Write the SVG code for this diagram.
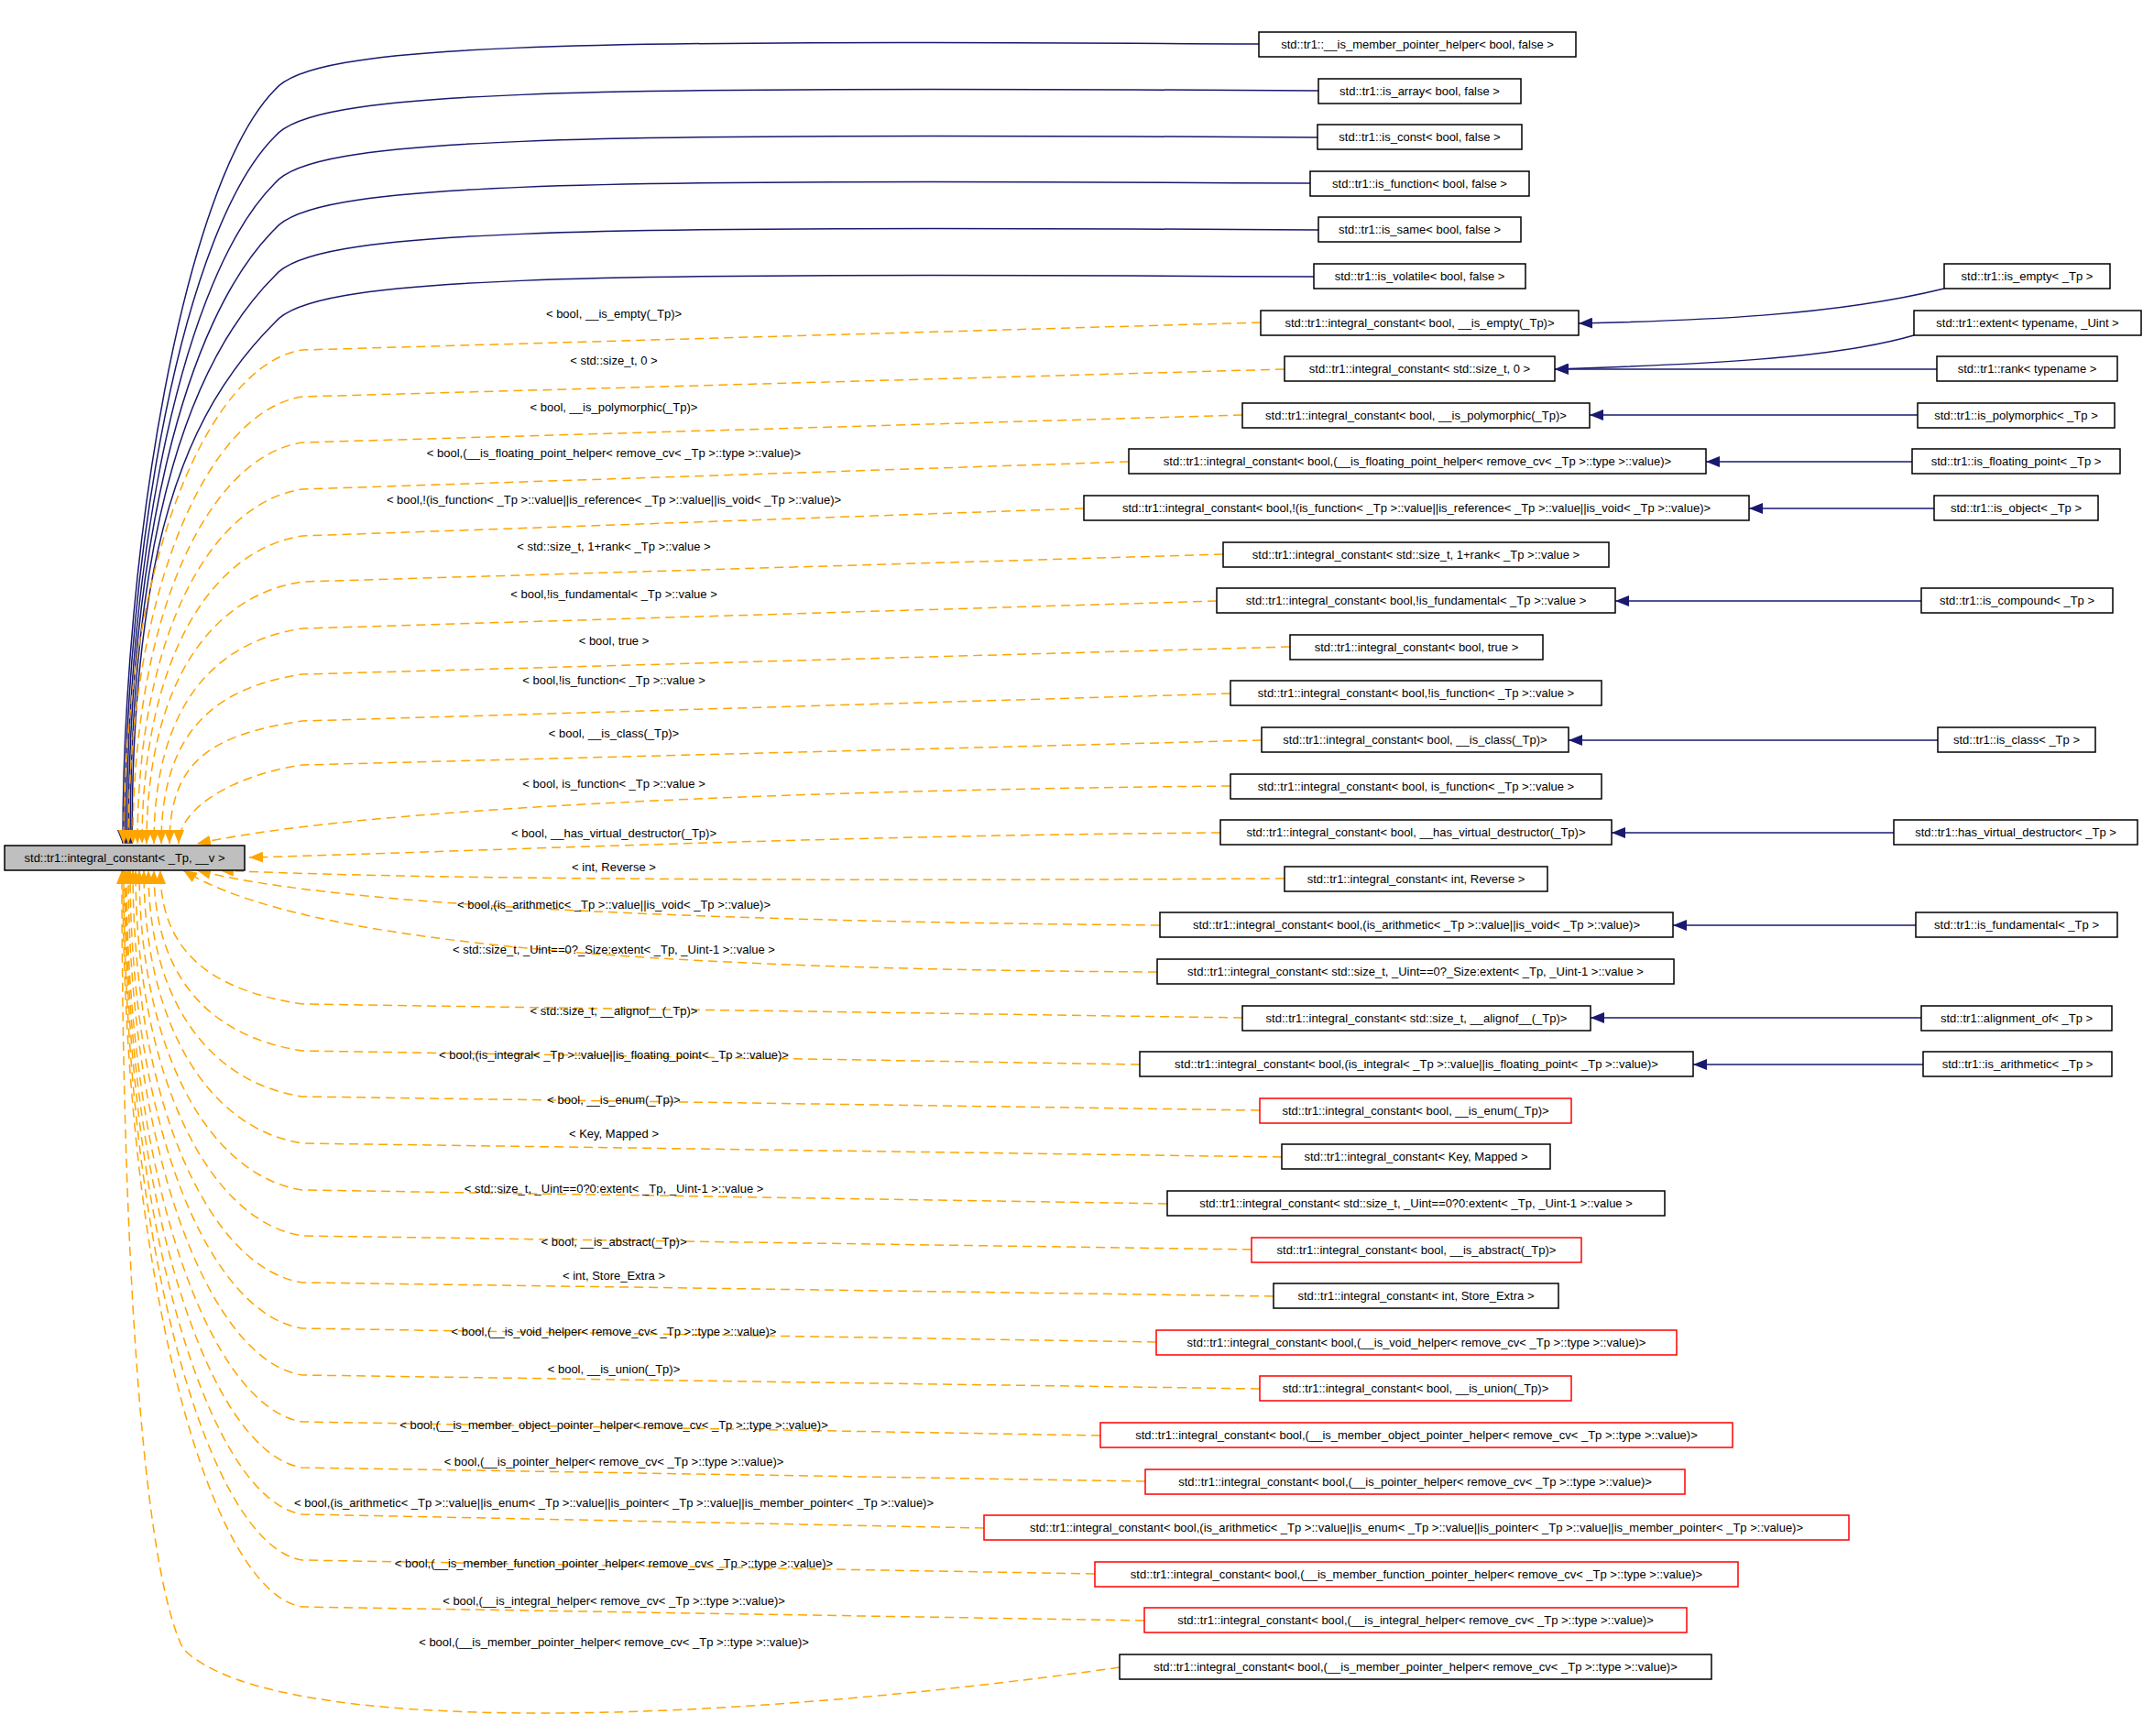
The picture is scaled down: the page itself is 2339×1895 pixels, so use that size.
<svg xmlns="http://www.w3.org/2000/svg" width="2339" height="1895" viewBox="0 0 2339 1895">
<style>
text{font-family:"Liberation Sans",Arial,sans-serif;font-size:13px;fill:#000}
.n rect{fill:#fff;stroke:#000;stroke-width:1.5}
.r rect{stroke:#f00}
.m rect{fill:#bfbfbf}
.n text{text-anchor:middle;dominant-baseline:central}
.o{fill:none;stroke:#ffa500;stroke-width:1.5;stroke-dasharray:10,6;marker-end:url(#ao)}
.b{fill:none;stroke:#191970;stroke-width:1.5;marker-end:url(#ab)}
.l{text-anchor:middle}
</style>
<defs>
<marker id="ao" markerUnits="userSpaceOnUse" markerWidth="16" markerHeight="12" refX="15" refY="6" orient="auto"><path d="M0,0 L15,6 L0,12 z" fill="#ffa500"/></marker>
<marker id="ab" markerUnits="userSpaceOnUse" markerWidth="16" markerHeight="12" refX="15" refY="6" orient="auto"><path d="M0,0 L15,6 L0,12 z" fill="#191970"/></marker>
</defs>
<rect width="2339" height="1895" fill="#fff"/>
<g id="edges">
<path class="b" d="M1374,48 C600,43 340,48 300,98 C200,200 134,600 134,921"/>
<path class="b" d="M1439,99 C600,94 340,99 300,149 C200,249 136,600 136,921"/>
<path class="b" d="M1438,150 C600,145 340,150 300,200 C200,300 138,600 138,921"/>
<path class="b" d="M1430,200 C600,195 340,200 300,250 C200,350 140,600 140,921"/>
<path class="b" d="M1439,251 C600,246 340,251 300,301 C200,401 142,600 142,921"/>
<path class="b" d="M1434,302 C600,297 340,302 300,352 C200,452 144,600 144,921"/>
<path class="o" d="M1376,352 L330,382 C230,397 135,608 135,921"/>
<path class="o" d="M1402,403 L330,433 C230,448 140,636 140,921"/>
<path class="o" d="M1356,453 L330,483 C230,498 145,664 145,921"/>
<path class="o" d="M1232,504 L330,534 C230,549 150,692 150,921"/>
<path class="o" d="M1183,555 L330,585 C230,600 155,720 155,921"/>
<path class="o" d="M1335,605 L330,635 C230,650 160,747 160,921"/>
<path class="o" d="M1328,656 L330,686 C230,701 168,775 168,921"/>
<path class="o" d="M1408,706 L330,736 C230,751 176,803 176,921"/>
<path class="o" d="M1343,757 L330,787 C230,802 185,831 185,921"/>
<path class="o" d="M1377,808 L330,835 C260,845 195,880 195,921"/>
<path class="o" d="M1343,858 C900,862 400,880 215,921"/>
<path class="o" d="M1332,909 C900,912 500,930 272,936"/>
<path class="o" d="M1402,959 C900,962 450,960 240,950"/>
<path class="o" d="M1266,1010 C700,1005 350,985 215,950"/>
<path class="o" d="M1263,1061 C700,1058 330,1030 200,950"/>
<path class="o" d="M1356,1111 L330,1096 C230,1081 175,1039 175,950"/>
<path class="o" d="M1244,1162 L330,1147 C230,1132 168,1067 168,950"/>
<path class="o" d="M1375,1212 L330,1197 C230,1182 162,1094 162,950"/>
<path class="o" d="M1399,1263 L330,1248 C230,1233 157,1122 157,950"/>
<path class="o" d="M1274,1314 L330,1299 C230,1284 152,1150 152,950"/>
<path class="o" d="M1366,1364 L330,1349 C230,1334 148,1178 148,950"/>
<path class="o" d="M1390,1415 L330,1400 C230,1385 145,1206 145,950"/>
<path class="o" d="M1262,1465 L330,1450 C230,1435 142,1233 142,950"/>
<path class="o" d="M1375,1516 L330,1501 C230,1486 140,1261 140,950"/>
<path class="o" d="M1201,1567 L330,1552 C230,1537 138,1289 138,950"/>
<path class="o" d="M1250,1617 L330,1602 C230,1587 137,1317 137,950"/>
<path class="o" d="M1074,1668 L330,1653 C230,1638 136,1345 136,950"/>
<path class="o" d="M1195,1718 L330,1703 C230,1688 135,1372 135,950"/>
<path class="o" d="M1249,1769 L330,1754 C230,1739 134,1400 134,950"/>
<path class="o" d="M1222,1820 C800,1880 300,1900 200,1800 C150,1700 133,1300 133,950"/>
<path class="b" d="M2122,315 C2000,345 1850,350 1723,353"/>
<path class="b" d="M2089,366 C2000,392 1850,398 1697,403"/>
<path class="b" d="M2114,403 L1697,403"/>
<path class="b" d="M2093,453 L1735,453"/>
<path class="b" d="M2087,504 L1862,504"/>
<path class="b" d="M2111,555 L1909,555"/>
<path class="b" d="M2097,656 L1763,656"/>
<path class="b" d="M2115,808 L1712,808"/>
<path class="b" d="M2067,909 L1759,909"/>
<path class="b" d="M2091,1010 L1826,1010"/>
<path class="b" d="M2097,1111 L1736,1111"/>
<path class="b" d="M2099,1162 L1848,1162"/>
<g class="l">
<text x="670" y="347">&lt; bool, __is_empty(_Tp)&gt;</text>
<text x="670" y="398">&lt; std::size_t, 0 &gt;</text>
<text x="670" y="449">&lt; bool, __is_polymorphic(_Tp)&gt;</text>
<text x="670" y="499">&lt; bool,(__is_floating_point_helper&lt; remove_cv&lt; _Tp &gt;::type &gt;::value)&gt;</text>
<text x="670" y="550">&lt; bool,!(is_function&lt; _Tp &gt;::value||is_reference&lt; _Tp &gt;::value||is_void&lt; _Tp &gt;::value)&gt;</text>
<text x="670" y="601">&lt; std::size_t, 1+rank&lt; _Tp &gt;::value &gt;</text>
<text x="670" y="653">&lt; bool,!is_fundamental&lt; _Tp &gt;::value &gt;</text>
<text x="670" y="704">&lt; bool, true &gt;</text>
<text x="670" y="747">&lt; bool,!is_function&lt; _Tp &gt;::value &gt;</text>
<text x="670" y="805">&lt; bool, __is_class(_Tp)&gt;</text>
<text x="670" y="860">&lt; bool, is_function&lt; _Tp &gt;::value &gt;</text>
<text x="670" y="914">&lt; bool, __has_virtual_destructor(_Tp)&gt;</text>
<text x="670" y="951">&lt; int, Reverse &gt;</text>
<text x="670" y="992">&lt; bool,(is_arithmetic&lt; _Tp &gt;::value||is_void&lt; _Tp &gt;::value)&gt;</text>
<text x="670" y="1041">&lt; std::size_t, _Uint==0?_Size:extent&lt; _Tp, _Uint-1 &gt;::value &gt;</text>
<text x="670" y="1108">&lt; std::size_t, __alignof__(_Tp)&gt;</text>
<text x="670" y="1156">&lt; bool,(is_integral&lt; _Tp &gt;::value||is_floating_point&lt; _Tp &gt;::value)&gt;</text>
<text x="670" y="1205">&lt; bool, __is_enum(_Tp)&gt;</text>
<text x="670" y="1242">&lt; Key, Mapped &gt;</text>
<text x="670" y="1302">&lt; std::size_t, _Uint==0?0:extent&lt; _Tp, _Uint-1 &gt;::value &gt;</text>
<text x="670" y="1360">&lt; bool, __is_abstract(_Tp)&gt;</text>
<text x="670" y="1397">&lt; int, Store_Extra &gt;</text>
<text x="670" y="1458">&lt; bool,(__is_void_helper&lt; remove_cv&lt; _Tp &gt;::type &gt;::value)&gt;</text>
<text x="670" y="1499">&lt; bool, __is_union(_Tp)&gt;</text>
<text x="670" y="1560">&lt; bool,(__is_member_object_pointer_helper&lt; remove_cv&lt; _Tp &gt;::type &gt;::value)&gt;</text>
<text x="670" y="1600">&lt; bool,(__is_pointer_helper&lt; remove_cv&lt; _Tp &gt;::type &gt;::value)&gt;</text>
<text x="670" y="1645">&lt; bool,(is_arithmetic&lt; _Tp &gt;::value||is_enum&lt; _Tp &gt;::value||is_pointer&lt; _Tp &gt;::value||is_member_pointer&lt; _Tp &gt;::value)&gt;</text>
<text x="670" y="1711">&lt; bool,(__is_member_function_pointer_helper&lt; remove_cv&lt; _Tp &gt;::type &gt;::value)&gt;</text>
<text x="670" y="1752">&lt; bool,(__is_integral_helper&lt; remove_cv&lt; _Tp &gt;::type &gt;::value)&gt;</text>
<text x="670" y="1797">&lt; bool,(__is_member_pointer_helper&lt; remove_cv&lt; _Tp &gt;::type &gt;::value)&gt;</text>
</g>
</g>
<g id="main" class="n m"><rect x="5" y="923" width="262" height="27"/><text x="136" y="936.5">std::tr1::integral_constant&lt; _Tp, __v &gt;</text></g>
<g id="n1" class="n"><rect x="1374" y="35" width="346" height="27"/><text x="1547" y="48.5">std::tr1::__is_member_pointer_helper&lt; bool, false &gt;</text></g>
<g id="n2" class="n"><rect x="1439" y="86" width="221" height="27"/><text x="1549.5" y="99.5">std::tr1::is_array&lt; bool, false &gt;</text></g>
<g id="n3" class="n"><rect x="1438" y="136" width="223" height="27"/><text x="1549.5" y="149.5">std::tr1::is_const&lt; bool, false &gt;</text></g>
<g id="n4" class="n"><rect x="1430" y="187" width="239" height="27"/><text x="1549.5" y="200.5">std::tr1::is_function&lt; bool, false &gt;</text></g>
<g id="n5" class="n"><rect x="1439" y="237" width="221" height="27"/><text x="1549.5" y="250.5">std::tr1::is_same&lt; bool, false &gt;</text></g>
<g id="n6" class="n"><rect x="1434" y="288" width="231" height="27"/><text x="1549.5" y="301.5">std::tr1::is_volatile&lt; bool, false &gt;</text></g>
<g id="n7" class="n"><rect x="1376" y="339" width="347" height="27"/><text x="1549.5" y="352.5">std::tr1::integral_constant&lt; bool, __is_empty(_Tp)&gt;</text></g>
<g id="n8" class="n"><rect x="1402" y="389" width="295" height="27"/><text x="1549.5" y="402.5">std::tr1::integral_constant&lt; std::size_t, 0 &gt;</text></g>
<g id="n9" class="n"><rect x="1356" y="440" width="379" height="27"/><text x="1545.5" y="453.5">std::tr1::integral_constant&lt; bool, __is_polymorphic(_Tp)&gt;</text></g>
<g id="n10" class="n"><rect x="1232" y="490" width="630" height="27"/><text x="1547" y="503.5">std::tr1::integral_constant&lt; bool,(__is_floating_point_helper&lt; remove_cv&lt; _Tp &gt;::type &gt;::value)&gt;</text></g>
<g id="n11" class="n"><rect x="1183" y="541" width="726" height="27"/><text x="1546" y="554.5">std::tr1::integral_constant&lt; bool,!(is_function&lt; _Tp &gt;::value||is_reference&lt; _Tp &gt;::value||is_void&lt; _Tp &gt;::value)&gt;</text></g>
<g id="n12" class="n"><rect x="1335" y="592" width="421" height="27"/><text x="1545.5" y="605.5">std::tr1::integral_constant&lt; std::size_t, 1+rank&lt; _Tp &gt;::value &gt;</text></g>
<g id="n13" class="n"><rect x="1328" y="642" width="435" height="27"/><text x="1545.5" y="655.5">std::tr1::integral_constant&lt; bool,!is_fundamental&lt; _Tp &gt;::value &gt;</text></g>
<g id="n14" class="n"><rect x="1408" y="693" width="276" height="27"/><text x="1546" y="706.5">std::tr1::integral_constant&lt; bool, true &gt;</text></g>
<g id="n15" class="n"><rect x="1343" y="743" width="405" height="27"/><text x="1545.5" y="756.5">std::tr1::integral_constant&lt; bool,!is_function&lt; _Tp &gt;::value &gt;</text></g>
<g id="n16" class="n"><rect x="1377" y="794" width="335" height="27"/><text x="1544.5" y="807.5">std::tr1::integral_constant&lt; bool, __is_class(_Tp)&gt;</text></g>
<g id="n17" class="n"><rect x="1343" y="845" width="405" height="27"/><text x="1545.5" y="858.5">std::tr1::integral_constant&lt; bool, is_function&lt; _Tp &gt;::value &gt;</text></g>
<g id="n18" class="n"><rect x="1332" y="895" width="427" height="27"/><text x="1545.5" y="908.5">std::tr1::integral_constant&lt; bool, __has_virtual_destructor(_Tp)&gt;</text></g>
<g id="n19" class="n"><rect x="1402" y="946" width="287" height="27"/><text x="1545.5" y="959.5">std::tr1::integral_constant&lt; int, Reverse &gt;</text></g>
<g id="n20" class="n"><rect x="1266" y="996" width="560" height="27"/><text x="1546" y="1009.5">std::tr1::integral_constant&lt; bool,(is_arithmetic&lt; _Tp &gt;::value||is_void&lt; _Tp &gt;::value)&gt;</text></g>
<g id="n21" class="n"><rect x="1263" y="1047" width="564" height="27"/><text x="1545" y="1060.5">std::tr1::integral_constant&lt; std::size_t, _Uint==0?_Size:extent&lt; _Tp, _Uint-1 &gt;::value &gt;</text></g>
<g id="n22" class="n"><rect x="1356" y="1098" width="380" height="27"/><text x="1546" y="1111.5">std::tr1::integral_constant&lt; std::size_t, __alignof__(_Tp)&gt;</text></g>
<g id="n23" class="n"><rect x="1244" y="1148" width="604" height="27"/><text x="1546" y="1161.5">std::tr1::integral_constant&lt; bool,(is_integral&lt; _Tp &gt;::value||is_floating_point&lt; _Tp &gt;::value)&gt;</text></g>
<g id="n24" class="n r"><rect x="1375" y="1199" width="340" height="27"/><text x="1545" y="1212.5">std::tr1::integral_constant&lt; bool, __is_enum(_Tp)&gt;</text></g>
<g id="n25" class="n"><rect x="1399" y="1249" width="293" height="27"/><text x="1545.5" y="1262.5">std::tr1::integral_constant&lt; Key, Mapped &gt;</text></g>
<g id="n26" class="n"><rect x="1274" y="1300" width="543" height="27"/><text x="1545.5" y="1313.5">std::tr1::integral_constant&lt; std::size_t, _Uint==0?0:extent&lt; _Tp, _Uint-1 &gt;::value &gt;</text></g>
<g id="n27" class="n r"><rect x="1366" y="1351" width="360" height="27"/><text x="1546" y="1364.5">std::tr1::integral_constant&lt; bool, __is_abstract(_Tp)&gt;</text></g>
<g id="n28" class="n"><rect x="1390" y="1401" width="311" height="27"/><text x="1545.5" y="1414.5">std::tr1::integral_constant&lt; int, Store_Extra &gt;</text></g>
<g id="n29" class="n r"><rect x="1262" y="1452" width="568" height="27"/><text x="1546" y="1465.5">std::tr1::integral_constant&lt; bool,(__is_void_helper&lt; remove_cv&lt; _Tp &gt;::type &gt;::value)&gt;</text></g>
<g id="n30" class="n r"><rect x="1375" y="1502" width="340" height="27"/><text x="1545" y="1515.5">std::tr1::integral_constant&lt; bool, __is_union(_Tp)&gt;</text></g>
<g id="n31" class="n r"><rect x="1201" y="1553" width="690" height="27"/><text x="1546" y="1566.5">std::tr1::integral_constant&lt; bool,(__is_member_object_pointer_helper&lt; remove_cv&lt; _Tp &gt;::type &gt;::value)&gt;</text></g>
<g id="n32" class="n r"><rect x="1250" y="1604" width="589" height="27"/><text x="1544.5" y="1617.5">std::tr1::integral_constant&lt; bool,(__is_pointer_helper&lt; remove_cv&lt; _Tp &gt;::type &gt;::value)&gt;</text></g>
<g id="n33" class="n r"><rect x="1074" y="1654" width="944" height="27"/><text x="1546" y="1667.5">std::tr1::integral_constant&lt; bool,(is_arithmetic&lt; _Tp &gt;::value||is_enum&lt; _Tp &gt;::value||is_pointer&lt; _Tp &gt;::value||is_member_pointer&lt; _Tp &gt;::value)&gt;</text></g>
<g id="n34" class="n r"><rect x="1195" y="1705" width="702" height="27"/><text x="1546" y="1718.5">std::tr1::integral_constant&lt; bool,(__is_member_function_pointer_helper&lt; remove_cv&lt; _Tp &gt;::type &gt;::value)&gt;</text></g>
<g id="n35" class="n r"><rect x="1249" y="1755" width="592" height="27"/><text x="1545" y="1768.5">std::tr1::integral_constant&lt; bool,(__is_integral_helper&lt; remove_cv&lt; _Tp &gt;::type &gt;::value)&gt;</text></g>
<g id="n36" class="n"><rect x="1222" y="1806" width="646" height="27"/><text x="1545" y="1819.5">std::tr1::integral_constant&lt; bool,(__is_member_pointer_helper&lt; remove_cv&lt; _Tp &gt;::type &gt;::value)&gt;</text></g>
<g id="r_is_empty" class="n"><rect x="2122" y="288" width="181" height="27"/><text x="2212.5" y="301.5">std::tr1::is_empty&lt; _Tp &gt;</text></g>
<g id="r_extent" class="n"><rect x="2089" y="339" width="248" height="27"/><text x="2213" y="352.5">std::tr1::extent&lt; typename, _Uint &gt;</text></g>
<g id="r_rank" class="n"><rect x="2114" y="389" width="197" height="27"/><text x="2212.5" y="402.5">std::tr1::rank&lt; typename &gt;</text></g>
<g id="r_poly" class="n"><rect x="2093" y="440" width="215" height="27"/><text x="2200.5" y="453.5">std::tr1::is_polymorphic&lt; _Tp &gt;</text></g>
<g id="r_float" class="n"><rect x="2087" y="490" width="227" height="27"/><text x="2200.5" y="503.5">std::tr1::is_floating_point&lt; _Tp &gt;</text></g>
<g id="r_object" class="n"><rect x="2111" y="541" width="179" height="27"/><text x="2200.5" y="554.5">std::tr1::is_object&lt; _Tp &gt;</text></g>
<g id="r_compound" class="n"><rect x="2097" y="642" width="209" height="27"/><text x="2201.5" y="655.5">std::tr1::is_compound&lt; _Tp &gt;</text></g>
<g id="r_class" class="n"><rect x="2115" y="794" width="172" height="27"/><text x="2201" y="807.5">std::tr1::is_class&lt; _Tp &gt;</text></g>
<g id="r_hvd" class="n"><rect x="2067" y="895" width="266" height="27"/><text x="2200" y="908.5">std::tr1::has_virtual_destructor&lt; _Tp &gt;</text></g>
<g id="r_fund" class="n"><rect x="2091" y="996" width="220" height="27"/><text x="2201" y="1009.5">std::tr1::is_fundamental&lt; _Tp &gt;</text></g>
<g id="r_align" class="n"><rect x="2097" y="1098" width="208" height="27"/><text x="2201" y="1111.5">std::tr1::alignment_of&lt; _Tp &gt;</text></g>
<g id="r_arith" class="n"><rect x="2099" y="1148" width="206" height="27"/><text x="2202" y="1161.5">std::tr1::is_arithmetic&lt; _Tp &gt;</text></g>
</svg>
